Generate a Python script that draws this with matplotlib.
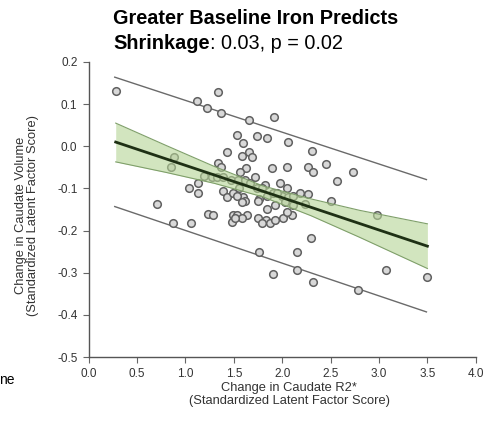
import matplotlib
matplotlib.use("Agg")
import matplotlib.pyplot as plt

plt.rcParams['font.family'] = ['Liberation Sans', 'DejaVu Sans']

# -----------------------------
# Data
# -----------------------------

iron_change = [
    0.283, 1.120, 1.223, 1.337, 1.368, 1.657, 1.916, 1.533, 1.595, 1.740,
    1.843, 2.060, 2.308, 2.452, 2.731, 2.566, 1.430, 1.585, 1.657, 1.688,
    1.894, 1.626, 2.050, 2.267, 2.318, 0.882, 0.851, 1.337, 1.368, 1.564,
    1.719, 1.192, 1.275, 1.326, 1.388, 1.471, 1.543, 1.130, 1.037, 1.130,
    1.388, 1.430, 1.492, 1.595, 1.616, 1.760, 1.843, 1.905, 0.707, 1.234,
    1.285, 1.492, 1.533, 1.636, 1.750, 1.833, 0.872, 1.058, 1.481, 1.585,
    1.791, 1.874, 1.760, 1.905, 1.978, 2.184, 2.267, 2.504, 2.979, 1.822,
    1.998, 2.060, 2.236, 1.843, 1.926, 2.101, 2.153, 2.153, 2.318, 2.298,
    2.783, 3.072, 3.496, 2.008, 1.926, 1.616, 1.667, 1.740, 1.791, 1.946,
    2.050, 2.112, 1.554, 1.533, 1.585, 1.750, 2.029, 2.112, 2.050, 1.512,
]
volume_change = [
    0.131, 0.107, 0.090, 0.129, 0.079, 0.062, 0.069, 0.026, 0.007, 0.024,
    0.019, 0.010, -0.010, -0.043, -0.062, -0.083, -0.014, -0.024, -0.014, -0.026,
    -0.052, -0.052, -0.048, -0.050, -0.060, -0.026, -0.048, -0.040, -0.050, -0.062,
    -0.074, -0.071, -0.074, -0.074, -0.074, -0.079, -0.081, -0.088, -0.100, -0.112,
    -0.107, -0.121, -0.110, -0.121, -0.131, -0.124, -0.119, -0.110, -0.136, -0.160,
    -0.162, -0.164, -0.162, -0.164, -0.169, -0.176, -0.181, -0.183, -0.179, -0.171,
    -0.183, -0.181, -0.252, -0.302, -0.088, -0.112, -0.114, -0.129, -0.162, -0.093,
    -0.117, -0.121, -0.136, -0.148, -0.140, -0.162, -0.250, -0.293, -0.321, -0.217,
    -0.340, -0.293, -0.310, -0.171, -0.176, -0.081, -0.088, -0.100, -0.098, -0.110,
    -0.100, -0.117, -0.098, -0.117, -0.133, -0.129, -0.133, -0.140, -0.157, -0.169,
]

# regression line and confidence band
fit_x = [0.28, 3.5]
fit_y = [0.010, -0.237]
band_x = [0.28, 0.8, 1.3, 1.8, 2.3, 2.8, 3.5]
ci_upper = [0.055, 0.002, -0.048, -0.094, -0.125, -0.152, -0.184]
ci_lower = [-0.037, -0.062, -0.088, -0.120, -0.165, -0.216, -0.290]

# prediction interval lines
pi_x = [0.27, 3.49]
pi_upper = [0.164, -0.079]
pi_lower = [-0.143, -0.393]

x_ticks = [0.0, 0.5, 1.0, 1.5, 2.0, 2.5, 3.0, 3.5, 4.0]
y_ticks = [0.2, 0.1, 0.0, -0.1, -0.2, -0.3, -0.4, -0.5]

# -----------------------------
# Figure
# -----------------------------

W, H = 487, 429
fig = plt.figure(figsize=(W / 100, H / 100), dpi=100)
ax = fig.add_axes([88.6 / W, 72 / H, 387.2 / W, 295 / H])

ax.plot(pi_x, pi_upper, color="#6a6a6a", lw=1.0, zorder=2)
ax.plot(pi_x, pi_lower, color="#6a6a6a", lw=1.0, zorder=2)

ax.scatter(iron_change, volume_change, s=30, facecolor="#d8d8d8",
           edgecolor="#606060", linewidth=1.1, zorder=3)

ax.fill_between(band_x, ci_lower, ci_upper, color="#b5d595", alpha=0.6,
                linewidth=0, zorder=4)
ax.plot(band_x, ci_upper, color="#7f9f6a", lw=0.8, zorder=4)
ax.plot(band_x, ci_lower, color="#7f9f6a", lw=0.8, zorder=4)
ax.plot(fit_x, fit_y, color="#1e3014", lw=2.0, zorder=5)

ax.set_xlim(0, 4)
ax.set_ylim(-0.5, 0.2)
ax.set_xticks(x_ticks)
ax.set_xticklabels([f"{t:.1f}" for t in x_ticks])
ax.set_yticks(y_ticks)
ax.set_yticklabels([f"{t:.1f}" for t in y_ticks])

for side in ["top", "right"]:
    ax.spines[side].set_visible(False)
for side in ["left", "bottom"]:
    ax.spines[side].set_color("#555555")
    ax.spines[side].set_linewidth(1.0)

ax.tick_params(axis="both", labelsize=8.5, colors="#333333", length=4,
               width=0.8, pad=4)
ax.tick_params(axis="both", color="#666666")

ax.set_xlabel("Change in Caudate R2*\n(Standardized Latent Factor Score)",
              fontsize=9.3, color="#333333", linespacing=1.05)
ax.xaxis.set_label_coords(0.518, -0.085)
ax.xaxis.label.set_va("top")

ax.set_ylabel("Change in Caudate Volume\n(Standardized Latent Factor Score)",
              fontsize=9.3, color="#333333", linespacing=1.05)
ax.yaxis.set_label_coords(-0.128, 0.48)

# -----------------------------
# Title
# -----------------------------

tx = 113 / W
fig.text(tx, 1 - 24 / H, "Greater Baseline Iron Predicts", fontsize=14.3,
         fontweight="bold", va="baseline", ha="left")
t_bold = fig.text(tx, 1 - 49 / H, "Shrinkage", fontsize=14.3,
                  fontweight="bold", va="baseline", ha="left")
fig.canvas.draw()
bb = t_bold.get_window_extent()
fig.text(bb.x1 / W, 1 - 49 / H, ": 0.03, p = 0.02", fontsize=14.3,
         va="baseline", ha="left")

# fragment of a neighbouring panel's text at the left edge
fig.text(-0.002, 1 - 380 / H, "ne", fontsize=10, va="center", ha="left")

fig.savefig("out.png", dpi=100)
